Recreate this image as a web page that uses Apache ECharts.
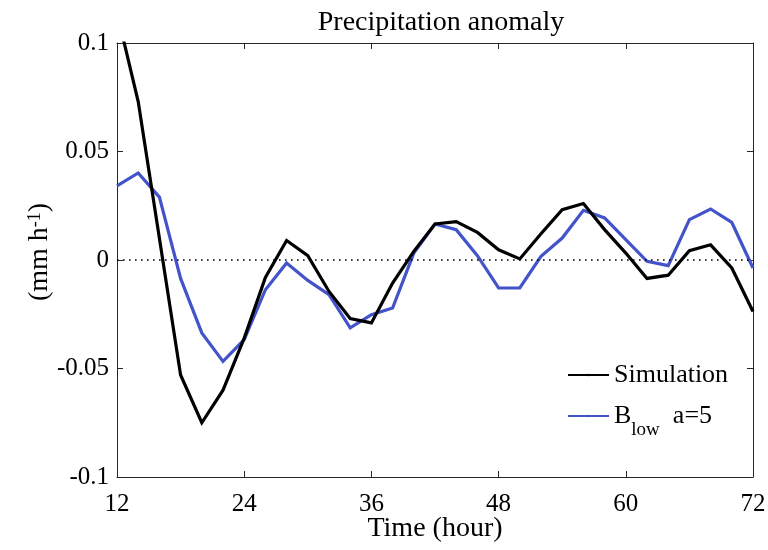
<!DOCTYPE html>
<html>
<head>
<meta charset="utf-8">
<title>Precipitation anomaly</title>
<script src="https://cdn.jsdelivr.net/npm/echarts@6/dist/echarts.min.js"></script>
<style>
  html, body { margin: 0; padding: 0; background: #fff; }
  #chart { width: 768px; height: 550px; }
</style>
</head>
<body>
<div id="chart"></div>
<script>
// Forecast hour of each sample
const hours = [12, 14, 16, 18, 20, 22, 24, 26, 28, 30, 32, 34, 36, 38, 40, 42,
               44, 46, 48, 50, 52, 54, 56, 58, 60, 62, 64, 66, 68, 70, 72];

// Precipitation anomaly (mm h^-1) from the full simulation
const simulation = [0.114, 0.073, 0.010, -0.053, -0.075, -0.060, -0.036, -0.008,
                    0.009, 0.002, -0.0145, -0.027, -0.029, -0.0106, 0.004, 0.0166,
                    0.0177, 0.0127, 0.0047, 0.0005, 0.0121, 0.0232, 0.026, 0.014,
                    0.0032, -0.0085, -0.007, 0.0043, 0.007, -0.0037, -0.0237];

// Precipitation anomaly (mm h^-1) from the low-level forcing, a = 5
const bLow = [0.0342, 0.0401, 0.029, -0.0085, -0.0336, -0.0467, -0.0367, -0.0137,
              -0.0014, -0.0094, -0.016, -0.0313, -0.0252, -0.0221, 0.0032, 0.0166,
              0.014, 0.002, -0.0129, -0.0129, 0.0017, 0.0101, 0.0229, 0.0194,
              0.0094, -0.0006, -0.0026, 0.0186, 0.0235, 0.0173, -0.0037];

const seriesNames = ['Simulation', 'Blow a=5'];

const FONT = '"Liberation Serif", "Times New Roman", serif';
const INK = '#262626';
const BLUE = '#4353C9';

const pairs = vals => hours.map((h, i) => [h, vals[i]]);

const axisCommon = {
  axisLine: { show: true, onZero: false, lineStyle: { color: INK, width: 1 } },
  axisTick: { show: true, inside: true, length: 6, lineStyle: { color: INK, width: 1 } },
  splitLine: { show: false }
};

const chart = echarts.init(document.getElementById('chart'), null, { renderer: 'canvas' });

chart.setOption({
  animation: false,
  backgroundColor: '#fff',
  title: {
    text: 'Precipitation anomaly',
    left: 436,
    textAlign: 'center',
    top: 4,
    textStyle: { fontFamily: FONT, fontSize: 28, fontWeight: 'normal', color: '#000' }
  },
  grid: {
    left: 117, right: 15, top: 43, bottom: 73,
    containLabel: false,
    outerBoundsMode: 'none'
  },
  legend: {
    data: seriesNames,
    orient: 'vertical',
    left: 567,
    top: 362,
    padding: 0,
    itemWidth: 41,
    itemHeight: 3,
    itemGap: 15,
    selectedMode: false,
    textStyle: {
      fontFamily: FONT, fontSize: 26, color: '#000',
      rich: {
        n: { fontFamily: FONT, fontSize: 26, lineHeight: 26, verticalAlign: 'top', color: '#000' },
        s: { fontFamily: FONT, fontSize: 19, lineHeight: 19, verticalAlign: 'top',
             padding: [18, 0, 0, 0], color: '#000' }
      }
    },
    formatter: name => name === 'Simulation' ? '{n|Simulation}' : '{n|B}{s|low}{n|  a=5}'
  },
  xAxis: [
    Object.assign({
      type: 'value', position: 'bottom', min: 12, max: 72, interval: 12,
      name: 'Time (hour)', nameLocation: 'middle', nameGap: 38, nameMoveOverlap: false,
      nameTextStyle: { fontFamily: FONT, fontSize: 28, color: '#000' },
      axisLabel: { fontFamily: FONT, fontSize: 25, color: '#000', margin: 15 }
    }, axisCommon),
    Object.assign({
      type: 'value', position: 'top', min: 12, max: 72, interval: 12,
      axisLabel: { show: false }
    }, axisCommon)
  ],
  yAxis: [
    Object.assign({
      type: 'value', position: 'left', min: -0.1, max: 0.1, interval: 0.05,
      name: '{a|(mm h}{sup|-1}{a|)}', nameLocation: 'middle', nameRotate: 90,
      nameGap: 63, nameMoveOverlap: false,
      nameTextStyle: {
        fontFamily: FONT, fontSize: 28, color: '#000',
        padding: [0, 0, 0, 16],
        rich: {
          a: { fontFamily: FONT, fontSize: 28, lineHeight: 28, color: '#000' },
          sup: { fontFamily: FONT, fontSize: 18, lineHeight: 18, verticalAlign: 'top', color: '#000' }
        }
      },
      axisLabel: {
        fontFamily: FONT, fontSize: 25, color: '#000', margin: 8,
        formatter: v => String(Math.round(v * 100) / 100)
      }
    }, axisCommon),
    Object.assign({
      type: 'value', position: 'right', min: -0.1, max: 0.1, interval: 0.05,
      axisLabel: { show: false }
    }, axisCommon)
  ],
  series: [
    {
      name: 'Simulation',
      type: 'line',
      data: pairs(simulation),
      symbol: 'none',
      legendIcon: 'rect',
      clip: true,
      z: 4,
      lineStyle: { color: '#000', width: 3.2, join: 'miter' },
      itemStyle: { color: '#000' }
    },
    {
      name: 'Blow a=5',
      type: 'line',
      data: pairs(bLow),
      symbol: 'none',
      legendIcon: 'rect',
      clip: true,
      z: 3,
      lineStyle: { color: BLUE, width: 3.2, join: 'miter' },
      itemStyle: { color: BLUE },
      markLine: {
        silent: true,
        symbol: 'none',
        label: { show: false },
        lineStyle: { color: '#000', width: 1.6, type: [1.6, 4.4] },
        data: [{ yAxis: 0 }]
      }
    }
  ]
});
</script>
</body>
</html>
